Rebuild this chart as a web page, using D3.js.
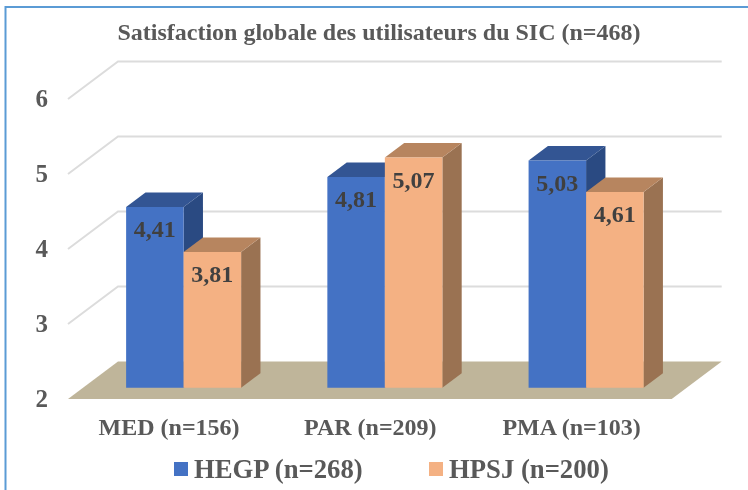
<!DOCTYPE html>
<html>
<head>
<meta charset="utf-8">
<title>Satisfaction globale</title>
<script src="https://cdn.jsdelivr.net/npm/d3@7"></script>
<style>
  html, body { margin: 0; padding: 0; background: #fff; overflow: hidden; }
  svg { display: block; filter: blur(0.5px); }
  text { font-family: "Liberation Serif", serif; font-weight: bold; }
</style>
</head>
<body>
<div id="chart"></div>
<script>
// chart data
var chartTitle = "Satisfaction globale des utilisateurs du SIC (n=468)";
var categories = ["MED (n=156)", "PAR (n=209)", "PMA (n=103)"];
var seriesNames = ["HEGP (n=268)", "HPSJ (n=200)"];
var hegpValues = [4.41, 4.81, 5.03];
var hpsjValues = [3.81, 5.07, 4.61];
var yTicks = [2, 3, 4, 5, 6];

var allValues = [hegpValues, hpsjValues];
var colors = [
  { front: "#4472c4", top: "#335593", side: "#2a4a82" },
  { front: "#f4b183", top: "#b7855f", side: "#9a7252" }
];

var width = 748, height = 490;

var svg = d3.select("#chart").append("svg")
  .attr("width", width)
  .attr("height", height);

// scales for the front plane of the box
var x = d3.scaleBand().domain(categories).range([68, 671.7]);
var y = d3.scaleLinear().domain([2, 6]).range([399, 99]);
var xInner = d3.scaleBand().domain(seriesNames).range([0, x.bandwidth()]).paddingOuter(0.75);

// oblique projection, z goes from the front (0) to the back wall (1)
var depthX = 50, depthY = 37.5;
function px(xv, z) { return xv + depthX * z; }
function py(yv, z) { return yv - depthY * z; }
function pts(list) {
  return list.map(function(p) { return px(p[0], p[1]) + "," + py(p[2], p[1]); }).join(" ");
}

// frame, only the top and left edges are in the picture
svg.append("polyline")
  .attr("points", "5.5,490 5.5,7 748,7")
  .attr("fill", "none")
  .attr("stroke", "#5b9bd5")
  .attr("stroke-width", 2);

// gridlines: side wall and back wall
yTicks.slice(1).forEach(function(t) {
  var x0 = x.range()[0], x1 = x.range()[1], yy = y(t);
  svg.append("polyline")
    .attr("points", pts([[x0, 0, yy], [x0, 1, yy], [x1, 1, yy]]))
    .attr("fill", "none")
    .attr("stroke", "#dcdcdc")
    .attr("stroke-width", 2);
});

// floor
svg.append("polygon")
  .attr("points", pts([
    [x.range()[0], 0, y(2)], [x.range()[1], 0, y(2)],
    [x.range()[1], 1, y(2)], [x.range()[0], 1, y(2)]
  ]))
  .attr("fill", "#bfb59a");

// bars
var barZ0 = 0.3, barZ1 = 0.687;
categories.forEach(function(cat, c) {
  seriesNames.forEach(function(name, s) {
    var v = allValues[s][c];
    var xa = x(cat) + xInner(name), xb = xa + xInner.bandwidth();
    var yb = y(2), yt = y(v);
    var g = svg.append("g");
    g.append("polygon")
      .attr("points", pts([[xb, barZ0, yb], [xb, barZ1, yb], [xb, barZ1, yt], [xb, barZ0, yt]]))
      .attr("fill", colors[s].side);
    g.append("polygon")
      .attr("points", pts([[xa, barZ0, yt], [xb, barZ0, yt], [xb, barZ1, yt], [xa, barZ1, yt]]))
      .attr("fill", colors[s].top);
    g.append("polygon")
      .attr("points", pts([[xa, barZ0, yb], [xb, barZ0, yb], [xb, barZ0, yt], [xa, barZ0, yt]]))
      .attr("fill", colors[s].front);
    g.append("text")
      .attr("x", px((xa + xb) / 2, barZ0))
      .attr("y", py(yt, barZ0) + 30)
      .attr("text-anchor", "middle")
      .attr("font-size", 24)
      .attr("fill", "#404040")
      .text(String(v.toFixed(2)).replace(".", ","));
  });
});

// y axis labels
yTicks.forEach(function(t) {
  svg.append("text")
    .attr("x", 48)
    .attr("y", y(t) + 8)
    .attr("text-anchor", "end")
    .attr("font-size", 25)
    .attr("fill", "#595959")
    .text(t);
});

// x axis labels
categories.forEach(function(cat) {
  svg.append("text")
    .attr("x", x(cat) + x.bandwidth() / 2 + 0.5)
    .attr("y", 435)
    .attr("text-anchor", "middle")
    .attr("font-size", 24)
    .attr("fill", "#595959")
    .text(cat);
});

// title
svg.append("text")
  .attr("x", 379)
  .attr("y", 40)
  .attr("text-anchor", "middle")
  .attr("font-size", 24)
  .attr("fill", "#595959")
  .text(chartTitle);

// legend
var legendX = [174, 429];
seriesNames.forEach(function(name, s) {
  svg.append("rect")
    .attr("x", legendX[s]).attr("y", 462)
    .attr("width", 14).attr("height", 14)
    .attr("fill", colors[s].front);
  svg.append("text")
    .attr("x", legendX[s] + 20)
    .attr("y", 478)
    .attr("font-size", 26.7)
    .attr("fill", "#595959")
    .text(name);
});
</script>
</body>
</html>
